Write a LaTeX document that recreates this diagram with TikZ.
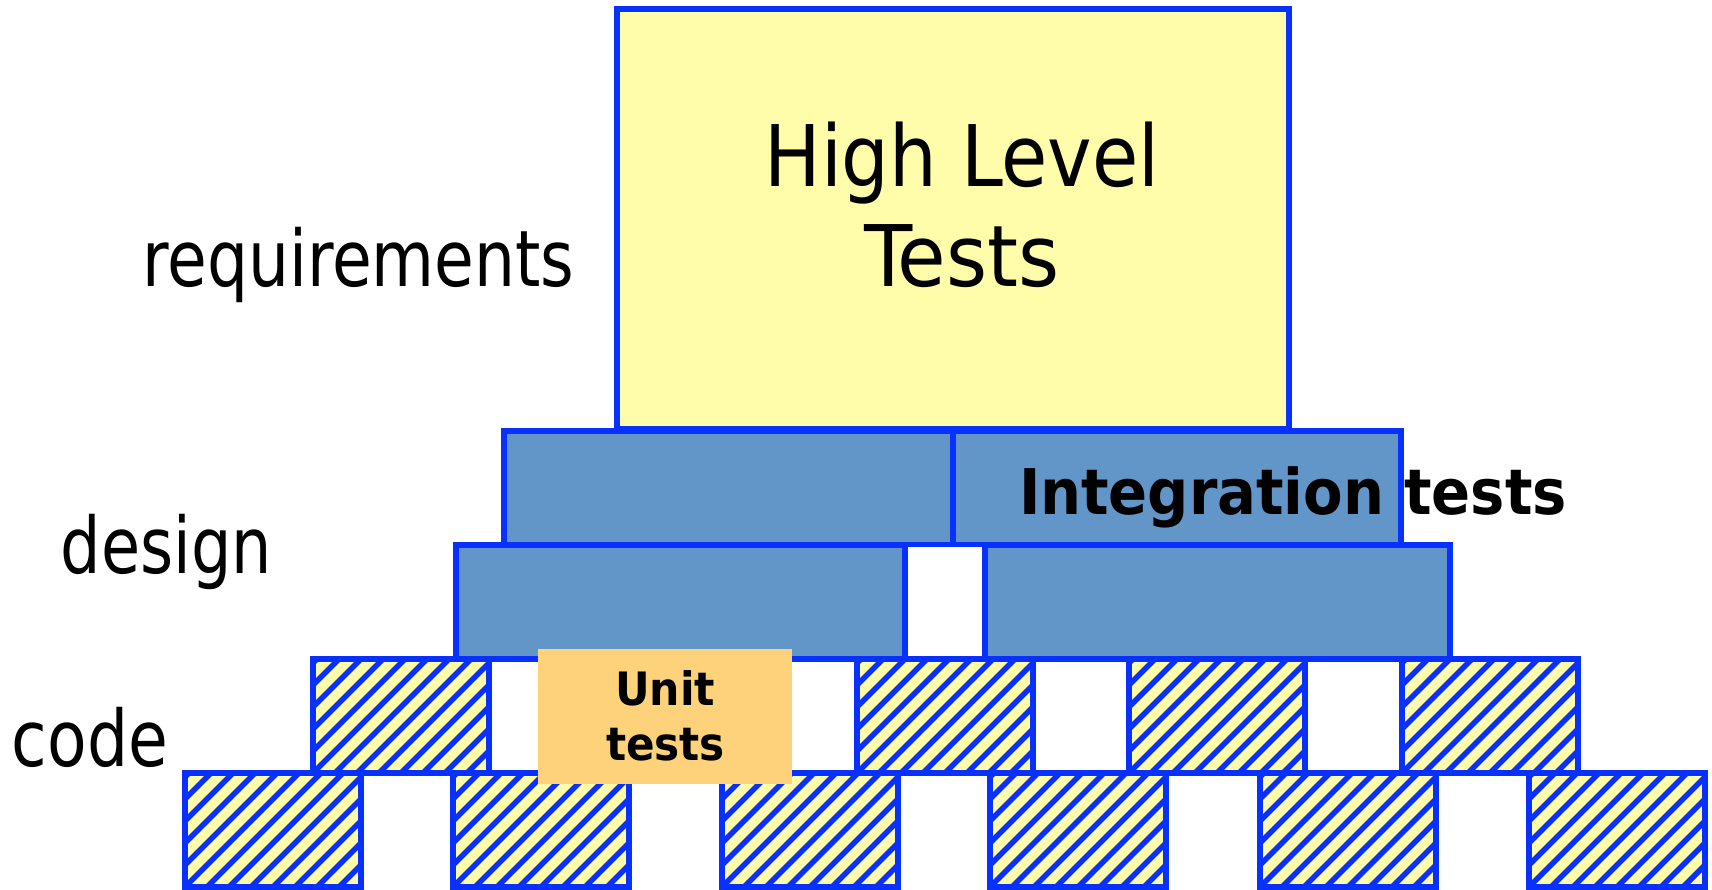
\documentclass[tikz,border=0pt]{standalone}
\usepackage{fontspec}
\IfFontExistsTF{DejaVu Sans Condensed}{\setmainfont{DejaVu Sans Condensed}}{\setmainfont{DejaVu Sans}}
\usepackage{graphicx}

\definecolor{edgeblue}{RGB}{8,48,255}
\definecolor{paleyellow}{RGB}{255,252,170}
\definecolor{steel}{RGB}{98,150,200}
\definecolor{apricot}{RGB}{254,210,122}

% squeeze or stretch a text to a given width, keeping its height
\newcommand{\fitto}[2]{\resizebox{#1pt}{\height}{#2}}

\begin{document}
\begin{tikzpicture}[x=1pt,y=-1pt,
  every node/.style={inner sep=0pt, outer sep=0pt},
  block/.style={rectangle, draw=edgeblue, line width=5.5pt},
  hlbox/.style={block, fill=paleyellow},
  intbox/.style={block, fill=steel, minimum height=113.5pt},
  codebox/.style={block, fill=paleyellow, minimum width=176pt, minimum height=114pt,
    path picture={
      \foreach \t in {-154,-132,...,198}
        \draw[edgeblue, line width=5.6pt]
          ([xshift=\t pt]path picture bounding box.south west) -- ++(150pt,150pt);}},
  unitbox/.style={rectangle, fill=apricot},
  levellabel/.style={anchor=base, font=\fontsize{78}{90}\selectfont},
  bigtext/.style={anchor=base, font=\fontsize{85}{100}\selectfont},
  inttext/.style={anchor=base, font=\bfseries\fontsize{63}{75}\selectfont},
  unittext/.style={anchor=base, font=\bfseries\fontsize{46}{55}\selectfont},
]
\useasboundingbox (0,0) rectangle (1712,889);

% top layer: high level tests
\node[hlbox, minimum width=672pt, minimum height=420pt] (hlt) at (953,219) {};

% integration layers
\node[intbox, minimum width=449pt] (intA) at (728.5,487.5) {};
\node[intbox, minimum width=448pt] (intB) at (1177,487.5) {};
\node[intbox, minimum width=449pt, minimum height=114pt] (intC) at (680.5,602) {};
\node[intbox, minimum width=465pt, minimum height=114pt] (intD) at (1217.5,602) {};

% code units, upper row
\node[codebox] (cu1) at (401,716) {};
\node[codebox] (cu2) at (945,716) {};
\node[codebox] (cu3) at (1217,716) {};
\node[codebox] (cu4) at (1490,716) {};

% code units, lower row
\node[codebox] (cl1) at (273,830) {};
\node[codebox] (cl2) at (541,830) {};
\node[codebox] (cl3) at (810,830) {};
\node[codebox] (cl4) at (1078,830) {};
\node[codebox] (cl5) at (1348,830) {};
\node[codebox] (cl6) at (1617,830) {};

% unit test patch
\node[unitbox, minimum width=254pt, minimum height=135pt] (unit) at (665,716.5) {};

% texts
\node[bigtext] (hlA) at (962,186) {\fitto{395}{High Level}};
\node[bigtext] (hlB) at (962,286) {\fitto{195}{Tests}};
\node[inttext] (itx) at (1293,514) {\fitto{548}{Integration tests}};
\node[unittext] (utA) at (665,705) {\fitto{100}{Unit}};
\node[unittext] (utB) at (665.5,760) {\fitto{119}{tests}};

\node[levellabel] (req) at (358.5,286) {\fitto{432}{requirements}};
\node[levellabel] (des) at (166.5,573) {\fitto{211}{design}};
\node[levellabel] (cod) at (90,766) {\fitto{156}{code}};
\end{tikzpicture}
\end{document}
